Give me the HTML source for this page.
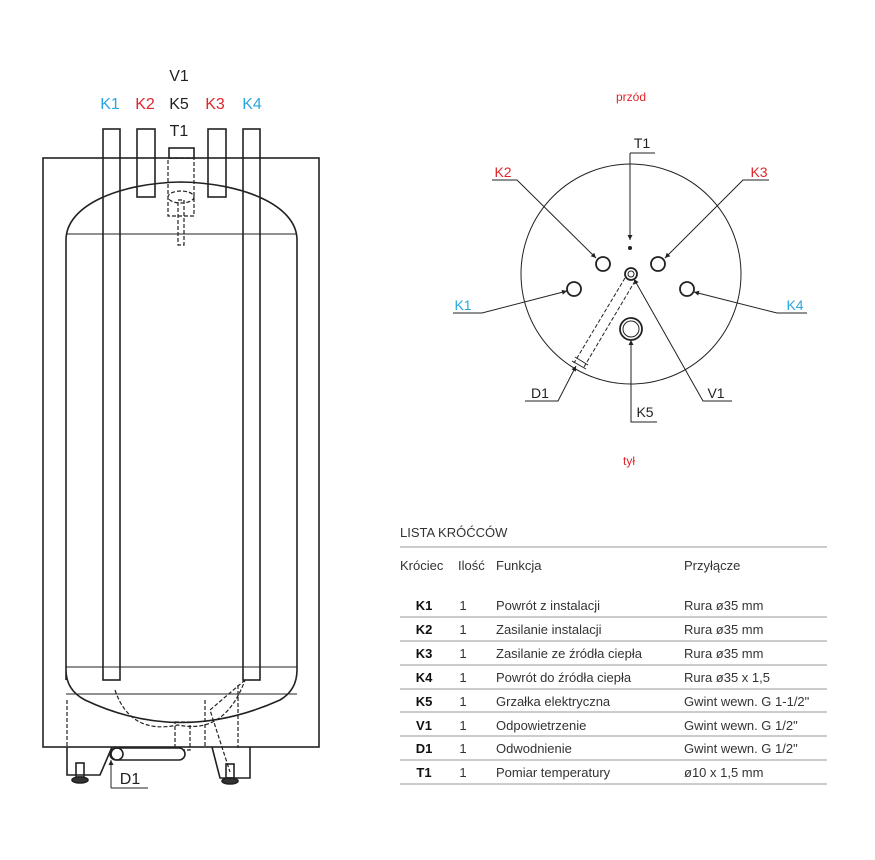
<!DOCTYPE html>
<html><head><meta charset="utf-8"><style>
html,body{margin:0;padding:0;background:#fff;}
svg{display:block;font-family:"Liberation Sans",sans-serif;}
</style></head><body>
<svg width="875" height="860" viewBox="0 0 875 860" xmlns="http://www.w3.org/2000/svg">
<defs><marker id="a" viewBox="0 0 10 10" refX="10" refY="5" markerWidth="7" markerHeight="5" orient="auto"><path d="M0,0 L10,5 L0,10 z" fill="#222"/></marker></defs>
<g font-size="16" text-anchor="middle">
<text x="179" y="81" fill="#222">V1</text>
<text x="110" y="109" fill="#29a8e0">K1</text>
<text x="145" y="109" fill="#e0252b">K2</text>
<text x="179" y="109" fill="#222">K5</text>
<text x="215" y="109" fill="#e0252b">K3</text>
<text x="252" y="109" fill="#29a8e0">K4</text>
<text x="179" y="136" fill="#222">T1</text>
</g>
<g fill="none" stroke="#222" stroke-width="1.6">
<rect x="43" y="158" width="276" height="589"/>
<path d="M66,680 L66,240 C66,205 120,183 181,182 C242,183 297,205 297,240 L297,670 Q297,690 280,700 Q180,745 85,700 Q66,690 66,670"/>
<line x1="66" y1="234" x2="297" y2="234" stroke-width="1"/>
<line x1="66" y1="667" x2="297" y2="667" stroke-width="1"/>
<line x1="66" y1="694" x2="297" y2="694" stroke-width="1"/>
<rect x="103" y="129" width="17" height="551"/>
<rect x="137" y="129" width="18" height="68"/>
<rect x="208" y="129" width="18" height="68"/>
<rect x="243" y="129" width="17" height="551"/>
<rect x="169" y="148" width="25" height="10" fill="#fff"/>
</g>
<g fill="none" stroke="#222" stroke-width="1.2" stroke-dasharray="4,2">
<rect x="168" y="158" width="26" height="58"/>
<ellipse cx="181" cy="197" rx="13" ry="6"/>
<rect x="178" y="200" width="6" height="45"/>
<path d="M67,700 L67,748 M205,700 L205,748"/>
<path d="M115,690 Q130,735 178,725 Q225,735 245,680"/>
<path d="M245,680 L210,710 L230,772"/>
<path d="M238,685 L238,748"/>
<rect x="175" y="722" width="15" height="28"/>
</g>
<g fill="none" stroke="#222" stroke-width="1.6">
<path d="M67,747 L67,775 L100,775 L112,747"/>
<path d="M212,747 L220,778 L250,778 L250,747"/>
<rect x="110" y="748" width="75" height="12" rx="6" fill="#fff"/>
<circle cx="117" cy="754" r="6"/>
<ellipse cx="80" cy="780" rx="8" ry="3" fill="#333"/>
<ellipse cx="230" cy="781" rx="8" ry="3" fill="#333"/>
<rect x="76" y="763" width="8" height="14"/>
<rect x="226" y="764" width="8" height="14"/>
<path d="M111,788 L148,788 M111,788 L111,760" stroke-width="1" marker-end="url(#a)"/>
</g>
<text x="130" y="784" font-size="16" text-anchor="middle" fill="#222">D1</text>

<text x="631" y="101" font-size="12" text-anchor="middle" fill="#e0252b">przód</text>
<text x="629" y="465" font-size="12" text-anchor="middle" fill="#e0252b">tył</text>
<g fill="none" stroke="#222">
<circle cx="631" cy="274" r="110" stroke-width="1"/>
<circle cx="603" cy="264" r="7" stroke-width="1.8"/>
<circle cx="658" cy="264" r="7" stroke-width="1.8"/>
<circle cx="574" cy="289" r="7" stroke-width="1.8"/>
<circle cx="687" cy="289" r="7" stroke-width="1.8"/>
<circle cx="631" cy="274" r="6" stroke-width="1.8"/>
<circle cx="631" cy="274" r="3" stroke-width="1"/>
<circle cx="631" cy="329" r="11" stroke-width="1.8"/>
<circle cx="631" cy="329" r="8" stroke-width="1"/>
<g stroke-width="1">
<path d="M630,153 L655,153 M630,153 L630,240" marker-end="url(#a)"/>
<path d="M492,180 L517,180 L596,258" marker-end="url(#a)"/>
<path d="M769,180 L743,180 L665,258" marker-end="url(#a)"/>
<path d="M453,313 L482,313 L567,291" marker-end="url(#a)"/>
<path d="M807,313 L777,313 L694,292" marker-end="url(#a)"/>
<path d="M525,401 L558,401 L576,366" marker-end="url(#a)"/>
<path d="M657,422 L631,422 L631,340" marker-end="url(#a)"/>
<path d="M732,401 L703,401 L634,279" marker-end="url(#a)"/>
<path d="M625,278 L574,363 M635,281 L584,367" stroke-dasharray="4,2"/>
<path d="M572,361 L586,369 M575,357 L588,365"/>
</g>
</g>
<circle cx="630" cy="248" r="2" fill="#222"/>
<g font-size="14" text-anchor="middle">
<text x="642" y="148" fill="#222">T1</text>
<text x="503" y="177" fill="#e0252b">K2</text>
<text x="759" y="177" fill="#e0252b">K3</text>
<text x="463" y="310" fill="#29a8e0">K1</text>
<text x="795" y="310" fill="#29a8e0">K4</text>
<text x="540" y="398" fill="#222">D1</text>
<text x="645" y="417" fill="#222">K5</text>
<text x="716" y="398" fill="#222">V1</text>
</g>

<g font-size="13" fill="#333">
<text x="400" y="537">LISTA KRÓĆCÓW</text>
<text x="400" y="570">Króciec</text>
<text x="458" y="570">Ilość</text>
<text x="496" y="570">Funkcja</text>
<text x="684" y="570">Przyłącze</text>
</g>
<g stroke="#999" stroke-width="1">
<line x1="400" y1="547" x2="827" y2="547"/>
<line x1="400" y1="617" x2="827" y2="617"/>
<line x1="400" y1="641" x2="827" y2="641"/>
<line x1="400" y1="665" x2="827" y2="665"/>
<line x1="400" y1="689" x2="827" y2="689"/>
<line x1="400" y1="712" x2="827" y2="712"/>
<line x1="400" y1="736" x2="827" y2="736"/>
<line x1="400" y1="760" x2="827" y2="760"/>
<line x1="400" y1="784" x2="827" y2="784"/>
</g>
<g font-size="13" fill="#333">
<g font-weight="bold" fill="#111" text-anchor="middle">
<text x="424" y="610">K1</text><text x="424" y="634">K2</text><text x="424" y="658">K3</text><text x="424" y="682">K4</text>
<text x="424" y="706">K5</text><text x="424" y="730">V1</text><text x="424" y="753">D1</text><text x="424" y="777">T1</text>
</g>
<g text-anchor="middle">
<text x="463" y="610">1</text><text x="463" y="634">1</text><text x="463" y="658">1</text><text x="463" y="682">1</text>
<text x="463" y="706">1</text><text x="463" y="730">1</text><text x="463" y="753">1</text><text x="463" y="777">1</text>
</g>
<text x="496" y="610">Powrót z instalacji</text>
<text x="496" y="634">Zasilanie instalacji</text>
<text x="496" y="658">Zasilanie ze źródła ciepła</text>
<text x="496" y="682">Powrót do źródła ciepła</text>
<text x="496" y="706">Grzałka elektryczna</text>
<text x="496" y="730">Odpowietrzenie</text>
<text x="496" y="753">Odwodnienie</text>
<text x="496" y="777">Pomiar temperatury</text>
<text x="684" y="610">Rura ø35 mm</text>
<text x="684" y="634">Rura ø35 mm</text>
<text x="684" y="658">Rura ø35 mm</text>
<text x="684" y="682">Rura ø35 x 1,5</text>
<text x="684" y="706">Gwint wewn. G 1-1/2"</text>
<text x="684" y="730">Gwint wewn. G 1/2"</text>
<text x="684" y="753">Gwint wewn. G 1/2"</text>
<text x="684" y="777">ø10 x 1,5 mm</text>
</g>
</svg>
</body></html>
